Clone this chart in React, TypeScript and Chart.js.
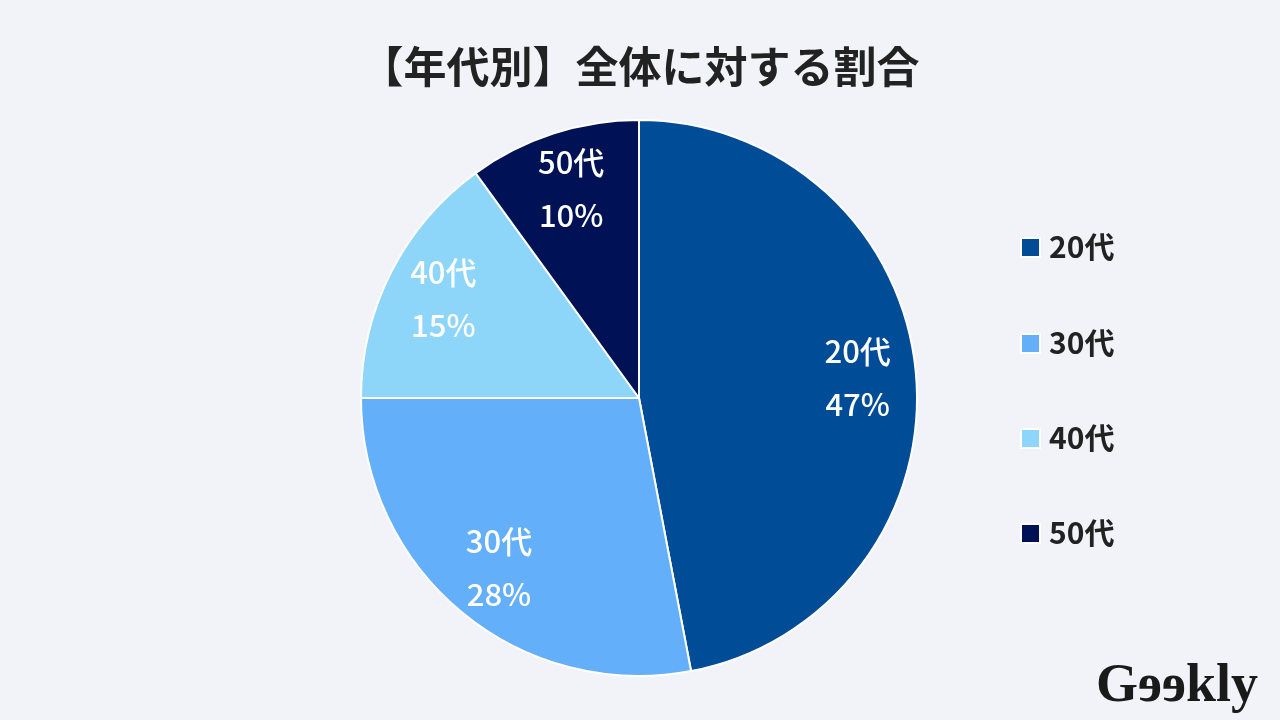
import React, { useEffect, useRef } from "react";
import { Chart, registerables } from "chart.js";

Chart.register(...registerables);

const TITLE = "【年代別】全体に対する割合";
const categories = ["20代", "30代", "40代", "50代"];
const shares = [47, 28, 15, 10];
const colors = ["#004C97", "#64AFFA", "#8ED6F9", "#001155"];
const LOGO_PARTS = ["G", "e", "e", "kly"];

const FONT = '"Noto Sans CJK JP", "Noto Sans", sans-serif';

export default function App() {
  const ref = useRef<HTMLCanvasElement | null>(null);

  useEffect(() => {
    if (!ref.current) return;
    const overlay = {
      id: "overlay",
      beforeDraw(chart: any) {
        const ctx = chart.ctx;
        ctx.save();
        ctx.fillStyle = "#F2F3F8";
        ctx.fillRect(0, 0, chart.width, chart.height);
        ctx.restore();
      },
      afterDatasetsDraw(chart: any) {
        const ctx = chart.ctx;
        const meta = chart.getDatasetMeta(0);
        ctx.save();
        // slice labels
        ctx.fillStyle = "#FFFFFF";
        ctx.font = `500 31px ${FONT}`;
        ctx.textAlign = "center";
        ctx.textBaseline = "middle";
        meta.data.forEach((arc: any, i: number) => {
          const mid = (arc.startAngle + arc.endAngle) / 2;
          const r = arc.outerRadius * 0.79;
          const x = arc.x + Math.cos(mid) * r;
          const y = arc.y + Math.sin(mid) * r;
          ctx.fillText(categories[i], x, y - 26.5);
          ctx.fillText(shares[i] + "%", x, y + 26.5);
        });
        // title
        ctx.fillStyle = "#222222";
        ctx.font = `bold 43px ${FONT}`;
        ctx.fillText(TITLE, 640, 67);
        // legend
        const ys = [247, 343, 438, 533];
        ctx.textAlign = "left";
        ctx.font = `bold 30px ${FONT}`;
        categories.forEach((c, i) => {
          const y = ys[i];
          ctx.fillStyle = "#FFFFFF";
          ctx.fillRect(1020, y - 10, 21, 21);
          ctx.fillStyle = colors[i];
          ctx.fillRect(1022, y - 8, 17, 17);
          ctx.fillStyle = "#222222";
          ctx.fillText(c, 1049, y);
        });
        // logo
        ctx.fillStyle = "#1A1A1A";
        ctx.font = `bold 54px "Liberation Serif", serif`;
        ctx.textBaseline = "alphabetic";
        let x = 1096;
        const base = 701;
        LOGO_PARTS.forEach((p) => {
          const w = ctx.measureText(p).width;
          if (p === "e") {
            ctx.save();
            ctx.translate(x + w, base);
            ctx.scale(-1, 1);
            ctx.fillText(p, 0, 0);
            ctx.restore();
          } else {
            ctx.fillText(p, x, base);
          }
          x += w;
        });
        ctx.restore();
      },
    };

    const chart = new Chart(ref.current, {
      type: "pie",
      data: {
        labels: categories,
        datasets: [
          {
            data: shares,
            backgroundColor: colors,
            borderColor: "#FFFFFF",
            borderWidth: 2,
          },
        ],
      },
      options: {
        responsive: false,
        animation: false,
        devicePixelRatio: 1,
        layout: { padding: { top: 119, bottom: 43, left: 0, right: 2 } },
        plugins: {
          legend: { display: false },
          tooltip: { enabled: false },
          title: { display: false },
        },
      },
      plugins: [overlay],
    });
    return () => chart.destroy();
  }, []);

  return (
    <div style={{ position: "fixed", left: 0, top: 0, width: 1280, height: 720 }}>
      <canvas ref={ref} width={1280} height={720} style={{ width: 1280, height: 720, display: "block" }} />
    </div>
  );
}
